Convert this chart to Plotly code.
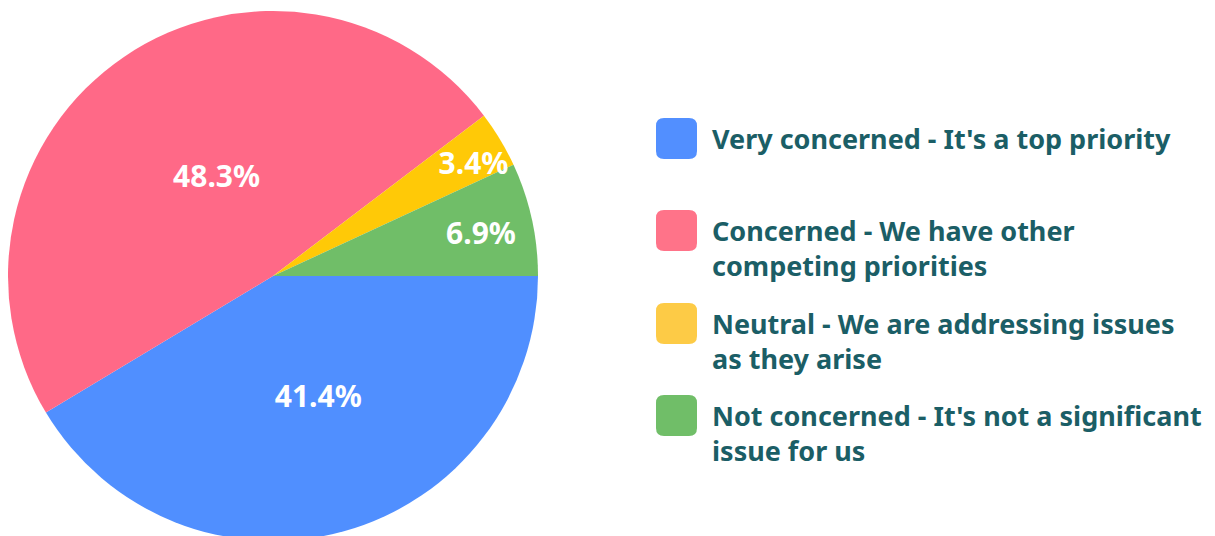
import plotly.graph_objects as go

# survey answers (counts -> 41.4 / 48.3 / 3.4 / 6.9 %)
labels = [
    "Very concerned - It's a top priority",
    "Concerned - We have other competing priorities",
    "Neutral - We are addressing issues as they arise",
    "Not concerned - It's not a significant issue for us",
]
legend_text = [
    "Very concerned - It's a top priority",
    "Concerned - We have other<br>competing priorities",
    "Neutral - We are addressing issues<br>as they arise",
    "Not concerned - It's not a significant<br>issue for us",
]
counts = [12, 14, 1, 2]
colors = ["#508fff", "#ff6987", "#ffc907", "#70be68"]
legend_colors = ["#528fff", "#ff7389", "#fdcb46", "#70be68"]

W, H = 1215, 536
text_color = "#1b5e66"
font_family = "Noto Sans, Open Sans, sans-serif"

# page body has an 8px margin, so figure px = screen px - 8
PIE_L, PIE_R = 0, 530
PIE_CX, PIE_CY, PIE_R0 = 265, 268, 265
TEXT_SCALE = 0.92
TEXT_DX = 12


def px_x(x):
    return x / W


def px_y(y):
    return 1 - y / H


def rounded_square(x0, y0, size, r):
    # path in paper coords, built from pixel values
    x1, y1 = x0 + size, y0 + size
    pts = [
        f"M {px_x(x0 + r)} {px_y(y0)}",
        f"L {px_x(x1 - r)} {px_y(y0)}",
        f"Q {px_x(x1)} {px_y(y0)} {px_x(x1)} {px_y(y0 + r)}",
        f"L {px_x(x1)} {px_y(y1 - r)}",
        f"Q {px_x(x1)} {px_y(y1)} {px_x(x1 - r)} {px_y(y1)}",
        f"L {px_x(x0 + r)} {px_y(y1)}",
        f"Q {px_x(x0)} {px_y(y1)} {px_x(x0)} {px_y(y1 - r)}",
        f"L {px_x(x0)} {px_y(y0 + r)}",
        f"Q {px_x(x0)} {px_y(y0)} {px_x(x0 + r)} {px_y(y0)}",
        "Z",
    ]
    return " ".join(pts)


fig = go.Figure()

# coloured slices
fig.add_trace(go.Pie(
    labels=labels,
    values=counts,
    sort=False,
    direction="clockwise",
    rotation=90,
    marker=dict(colors=colors, line=dict(width=0)),
    textinfo="none",
    domain=dict(x=[px_x(PIE_L), px_x(PIE_R)], y=[0, 1]),
    showlegend=False,
    hoverinfo="label+percent",
))

# same slices, smaller and transparent, only to place the % labels
tr = PIE_R0 * TEXT_SCALE
tcx = PIE_CX + TEXT_DX
fig.add_trace(go.Pie(
    labels=labels,
    values=counts,
    sort=False,
    direction="clockwise",
    rotation=90,
    marker=dict(colors=["rgba(0,0,0,0)"] * len(counts), line=dict(width=0)),
    texttemplate="%{percent:.1%}",
    textposition="inside",
    insidetextorientation="horizontal",
    textfont=dict(family=font_family, size=30, color="white", weight="bold"),
    domain=dict(x=[px_x(tcx - tr), px_x(tcx + tr)],
                y=[px_y(PIE_CY + tr), px_y(PIE_CY - tr)]),
    showlegend=False,
    hoverinfo="skip",
))

# custom legend with big rounded swatches
square_tops = [110, 202, 295, 387]
for top, col, txt in zip(square_tops, legend_colors, legend_text):
    fig.add_shape(type="path", xref="paper", yref="paper",
                  path=rounded_square(648, top, 41, 8),
                  fillcolor=col, line=dict(width=0))
    fig.add_annotation(
        xref="paper", yref="paper", x=px_x(703), y=px_y(top + 1),
        xanchor="left", yanchor="top", align="left", showarrow=False,
        text=txt, borderpad=0,
        font=dict(family=font_family, size=27, color=text_color, weight="bold"),
    )

fig.update_layout(
    width=W, height=H,
    margin=dict(l=0, r=0, t=0, b=0),
    paper_bgcolor="white",
    plot_bgcolor="white",
    uniformtext=dict(minsize=30, mode="show"),
)

fig.write_html("out.html")
